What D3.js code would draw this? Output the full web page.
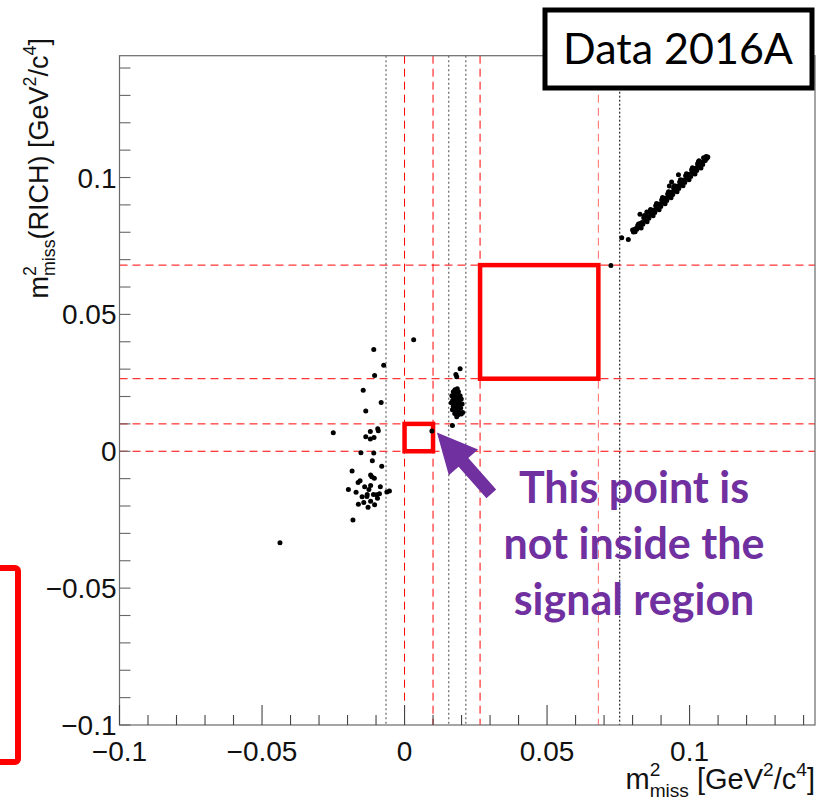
<!DOCTYPE html>
<html>
<head>
<meta charset="utf-8">
<script src="https://cdn.jsdelivr.net/npm/d3@7"></script>
<style>
  html, body { margin: 0; padding: 0; background: #fff; }
  svg { display: block; }
</style>
</head>
<body>
<svg id="chart" width="817" height="804"></svg>
<script>
// ---- data ----------------------------------------------------------
const xDomain = [-0.1, 0.144];
const yDomain = [-0.1, 0.1445];
const majorTicks = [-0.1, -0.05, 0, 0.05, 0.1];
const majorTickLabels = ["\u22120.1", "\u22120.05", "0", "0.05", "0.1"];
const minorTicks = d3.range(-10, 15).map(i => i / 100);

// cut positions (GeV^2/c^4)
const signalCutsX = [0, 0.01, 0.0265, 0.068];
const signalCutsY = [0, 0.01, 0.0265, 0.068];
const auxCutsX = [-0.0065, 0.0155, 0.0215];
const upperCutX = [0.0755];
// signal regions: [xmin, xmax, ymin, ymax]
const signalRegions = [[0, 0.01, 0, 0.01], [0.0265, 0.068, 0.0265, 0.068]];

// events: [m2miss, m2miss(RICH)]
const leftCluster = [
  [-0.0108, 0.0372], [-0.0073, 0.0314], [-0.0105, 0.0277], [-0.0145, 0.0223],
  [-0.0082, 0.0178], [-0.0136, 0.0147], [-0.0250, 0.0068], [-0.0120, 0.0072],
  [-0.0094, 0.0082], [-0.0092, 0.0075], [-0.0136, 0.0053], [-0.0120, 0.0045],
  [-0.0107, 0.0050], [-0.0153, -0.0005], [-0.0108, -0.0006], [-0.0113, -0.0035],
  [-0.0080, -0.0055], [-0.0184, -0.0072], [-0.0119, -0.0087], [-0.0115, -0.0093],
  [-0.0106, -0.0099], [-0.0163, -0.0114], [-0.0156, -0.0108], [-0.0085, -0.0130],
  [-0.0119, -0.0125], [-0.0062, -0.0149], [-0.0053, -0.0145], [-0.0131, -0.0158],
  [-0.0109, -0.0158], [-0.0098, -0.0159], [-0.0088, -0.0155], [-0.0149, -0.0166],
  [-0.0132, -0.0165], [-0.0143, -0.0187], [-0.0119, -0.0183], [-0.0105, -0.0195],
  [-0.0162, -0.0194], [-0.0181, -0.0251], [-0.0125, -0.0140], [-0.0140, -0.0130],
  [-0.0170, -0.0150], [-0.0095, -0.0172], [-0.0128, -0.0205], [-0.0197, -0.0140]
];
const middleCluster = [
  [0.0195, 0.0301], [0.0180, 0.0280], [0.0183, 0.0272], [0.0177, 0.0225],
  [0.0185, 0.0228], [0.0171, 0.0217], [0.0189, 0.0217], [0.0180, 0.0210],
  [0.0166, 0.0203], [0.0195, 0.0203], [0.0174, 0.0197], [0.0185, 0.0195],
  [0.0199, 0.0191], [0.0169, 0.0186], [0.0181, 0.0184], [0.0192, 0.0181],
  [0.0164, 0.0177], [0.0177, 0.0173], [0.0189, 0.0171], [0.0202, 0.0173],
  [0.0171, 0.0164], [0.0183, 0.0161], [0.0197, 0.0158], [0.0168, 0.0152],
  [0.0180, 0.0149], [0.0191, 0.0145], [0.0204, 0.0142], [0.0176, 0.0138],
  [0.0188, 0.0133], [0.0199, 0.0136], [0.0183, 0.0126], [0.0168, 0.0094]
];
const upperBand = [
  [0.0762, 0.0780], [0.0785, 0.0774],
  [0.0800, 0.0808], [0.0803, 0.0801], [0.0806, 0.0810], [0.0809, 0.0802],
  [0.0812, 0.0814], [0.0815, 0.0811], [0.0818, 0.0825], [0.0821, 0.0830],
  [0.0824, 0.0823], [0.0827, 0.0832], [0.0826, 0.0866], [0.0830, 0.0816],
  [0.0833, 0.0836], [0.0836, 0.0829], [0.0839, 0.0853], [0.0842, 0.0861],
  [0.0845, 0.0843], [0.0848, 0.0858], [0.0850, 0.0874], [0.0850, 0.0851],
  [0.0851, 0.0838], [0.0854, 0.0858], [0.0857, 0.0851], [0.0860, 0.0875],
  [0.0863, 0.0883], [0.0866, 0.0865], [0.0869, 0.0880], [0.0870, 0.0866],
  [0.0872, 0.0860], [0.0875, 0.0880], [0.0878, 0.0872], [0.0881, 0.0897],
  [0.0884, 0.0905], [0.0887, 0.0887], [0.0890, 0.0902], [0.0890, 0.0888],
  [0.0893, 0.0882], [0.0896, 0.0902], [0.0899, 0.0894], [0.0902, 0.0918],
  [0.0905, 0.0927], [0.0908, 0.0909], [0.0910, 0.0912], [0.0911, 0.0924],
  [0.0914, 0.0904], [0.0917, 0.0924], [0.0920, 0.0916], [0.0923, 0.0940],
  [0.0926, 0.0948], [0.0929, 0.0969], [0.0929, 0.0931], [0.0930, 0.0935],
  [0.0932, 0.0946], [0.0935, 0.0926], [0.0937, 0.0984], [0.0938, 0.0946],
  [0.0941, 0.0938], [0.0944, 0.0962], [0.0947, 0.0970], [0.0950, 0.0952],
  [0.0950, 0.0958], [0.0953, 0.0968], [0.0956, 0.0948], [0.0959, 0.0968],
  [0.0961, 0.1010], [0.0962, 0.0960], [0.0965, 0.0984], [0.0968, 0.0992],
  [0.0970, 0.0980], [0.0971, 0.0974], [0.0974, 0.0990], [0.0977, 0.0970],
  [0.0980, 0.0990], [0.0983, 0.0982], [0.0986, 0.1006], [0.0989, 0.1014],
  [0.0990, 0.1000], [0.0992, 0.0996], [0.0995, 0.1011], [0.0998, 0.0992],
  [0.1001, 0.1012], [0.1004, 0.1004], [0.1007, 0.1028], [0.1010, 0.1036],
  [0.1010, 0.1022], [0.1013, 0.1018], [0.1016, 0.1033], [0.1019, 0.1013],
  [0.1022, 0.1034], [0.1025, 0.1026], [0.1028, 0.1050], [0.1030, 0.1045],
  [0.1031, 0.1058], [0.1033, 0.1061], [0.1034, 0.1040], [0.1037, 0.1055],
  [0.1040, 0.1035], [0.1043, 0.1055], [0.1046, 0.1048], [0.1049, 0.1072],
  [0.1050, 0.1060], [0.1052, 0.1070], [0.1055, 0.1062], [0.1058, 0.1077],
  [0.1061, 0.1070], [0.1064, 0.1075]
];
const isolatedEvents = [
  [-0.0437, -0.0334], [0.0032, 0.0407], [0.0724, 0.0679]
];
// the event next to the small signal box
const highlightedEvent = [0.0096, 0.0074];

const panelTitle = "Data 2016A";
const noteLines = ["This point is", "not inside the", "signal region"];

// ---- layout --------------------------------------------------------
const svg = d3.select("#chart");
const frame = { left: 119.5, right: 815, top: 55.7, bottom: 725 };
const x = d3.scaleLinear().domain(xDomain).range([frame.left, frame.right]);
const y = d3.scaleLinear().domain(yDomain).range([frame.bottom, frame.top]);

const axisFont = "'Liberation Sans', Arial, Helvetica, sans-serif";
const slideFont = "Lato, 'Open Sans', sans-serif";
const red = "#ff0000";
const purple = "#7030a0";

// partial red box at the left edge of the slide
svg.append("rect")
  .attr("x", -30).attr("y", 568).attr("width", 48).attr("height", 194)
  .attr("rx", 3)
  .attr("fill", "none").attr("stroke", red).attr("stroke-width", 6);

// ---- cut lines -----------------------------------------------------
const lines = svg.append("g");
function vLine(v, color, dash, w) {
  lines.append("line")
    .attr("x1", x(v)).attr("x2", x(v))
    .attr("y1", frame.top).attr("y2", frame.bottom)
    .attr("stroke", color).attr("stroke-width", w || 1)
    .attr("stroke-dasharray", dash);
}
function hLine(v, color, dash, w) {
  lines.append("line")
    .attr("y1", y(v)).attr("y2", y(v))
    .attr("x1", frame.left).attr("x2", frame.right)
    .attr("stroke", color).attr("stroke-width", w || 1)
    .attr("stroke-dasharray", dash);
}
auxCutsX.forEach(v => vLine(v, "#666", "2,2.5", 1.2));
upperCutX.forEach(v => vLine(v, "#000", "2,2", 1));
signalCutsX.forEach((v, i) => vLine(v, i === 3 ? "#ff6a6a" : red, "8,5", 1));
signalCutsY.forEach(v => hLine(v, red, "8,5", 1));

// ---- signal regions ------------------------------------------------
svg.append("g").selectAll("rect")
  .data(signalRegions)
  .join("rect")
  .attr("x", d => x(d[0]))
  .attr("y", d => y(d[3]))
  .attr("width", d => x(d[1]) - x(d[0]))
  .attr("height", d => y(d[2]) - y(d[3]))
  .attr("fill", "none")
  .attr("stroke", red)
  .attr("stroke-width", 4.5);

// ---- frame and axes ------------------------------------------------
const axes = svg.append("g");
axes.append("rect")
  .attr("x", frame.left).attr("y", frame.top)
  .attr("width", frame.right - frame.left)
  .attr("height", frame.bottom - frame.top)
  .attr("fill", "none").attr("stroke", "#6a6a6a").attr("stroke-width", 1.2);

const isMajor = v => majorTicks.some(m => Math.abs(m - v) < 1e-9);

// x-axis ticks point up into the frame
axes.append("g").selectAll("line")
  .data(minorTicks)
  .join("line")
  .attr("x1", d => x(d)).attr("x2", d => x(d))
  .attr("y1", frame.bottom)
  .attr("y2", d => frame.bottom - (isMajor(d) ? 20 : 10))
  .attr("stroke", "#444").attr("stroke-width", 1.1);

// y-axis ticks point right into the frame
axes.append("g").selectAll("line")
  .data(minorTicks)
  .join("line")
  .attr("y1", d => y(d)).attr("y2", d => y(d))
  .attr("x1", frame.left)
  .attr("x2", frame.left + 11)
  .attr("stroke", "#666").attr("stroke-width", 1.1);

axes.append("g").selectAll("text")
  .data(majorTicks)
  .join("text")
  .attr("x", d => x(d))
  .attr("y", frame.bottom + 36)
  .attr("text-anchor", "middle")
  .attr("font-family", axisFont).attr("font-size", 28)
  .attr("fill", "#111")
  .text((d, i) => majorTickLabels[i]);

axes.append("g").selectAll("text")
  .data(majorTicks)
  .join("text")
  .attr("x", frame.left - 3)
  .attr("y", d => y(d) + 10)
  .attr("text-anchor", "end")
  .attr("font-family", axisFont).attr("font-size", 28)
  .attr("fill", "#111")
  .text((d, i) => majorTickLabels[i]);

// ---- axis titles with stacked super/subscripts --------------------
function measure(str, size) {
  const t = svg.append("text").attr("font-family", axisFont)
    .attr("font-size", size).text(str);
  const w = t.node().getComputedTextLength();
  t.remove();
  return w;
}
function massTitle(sel, middle, size) {
  const small = size * 0.66;
  const up = size * 0.45, down = size * 0.27;
  const w2 = measure("2", small);
  sel.append("tspan").text("m");
  sel.append("tspan").attr("font-size", small).attr("dy", -up).text("2");
  sel.append("tspan").attr("font-size", small).attr("dx", -w2).attr("dy", up + down).text("miss");
  sel.append("tspan").attr("dy", -down).text(middle + "[GeV");
  sel.append("tspan").attr("font-size", small).attr("dy", -up).text("2");
  sel.append("tspan").attr("dy", up).text("/c");
  sel.append("tspan").attr("font-size", small).attr("dy", -up).text("4");
  sel.append("tspan").attr("dy", up).text("]");
}
const xTitle = svg.append("text")
  .attr("x", frame.right).attr("y", 789)
  .attr("text-anchor", "end")
  .attr("font-family", axisFont).attr("font-size", 29).attr("fill", "#111");
massTitle(xTitle, " ", 29);

const yTitle = svg.append("text")
  .attr("transform", "translate(48,38) rotate(-90)")
  .attr("text-anchor", "end")
  .attr("font-family", axisFont).attr("font-size", 27).attr("fill", "#111");
massTitle(yTitle, "(RICH) ", 27);

// ---- events --------------------------------------------------------
const events = leftCluster.concat(middleCluster, upperBand, isolatedEvents, [highlightedEvent]);
svg.append("g").selectAll("circle")
  .data(events)
  .join("circle")
  .attr("cx", d => x(d[0]))
  .attr("cy", d => y(d[1]))
  .attr("r", 2.5)
  .attr("fill", "#000");

// ---- panel label ---------------------------------------------------
svg.append("rect")
  .attr("x", 545).attr("y", 10).attr("width", 267).attr("height", 78)
  .attr("fill", "#fff").attr("stroke", "#000").attr("stroke-width", 5);
svg.append("text")
  .attr("x", 678).attr("y", 64)
  .attr("text-anchor", "middle")
  .attr("font-family", slideFont).attr("font-size", 43)
  .attr("fill", "#000")
  .text(panelTitle);

// ---- arrow pointing at the highlighted event -----------------------
const tipX = x(highlightedEvent[0]) + 5, tipY = y(highlightedEvent[1]) + 1.5;
const angle = Math.atan2(61.7, 54.7) * 180 / Math.PI;
const arrowLen = 82, headLen = 40, headHalf = 19.5, shaftHalf = 6.5;
svg.append("path")
  .attr("transform", `translate(${tipX},${tipY}) rotate(${angle})`)
  .attr("d", `M0,0 L${headLen},${-headHalf} L${headLen},${-shaftHalf} L${arrowLen},${-shaftHalf}
              L${arrowLen},${shaftHalf} L${headLen},${shaftHalf} L${headLen},${headHalf} Z`)
  .attr("fill", purple);

svg.append("g").selectAll("text")
  .data(noteLines)
  .join("text")
  .attr("x", 634)
  .attr("y", (d, i) => 503 + i * 56)
  .attr("text-anchor", "middle")
  .attr("font-family", slideFont).attr("font-weight", 700)
  .attr("font-size", 43)
  .attr("fill", purple)
  .text(d => d);
</script>
</body>
</html>
